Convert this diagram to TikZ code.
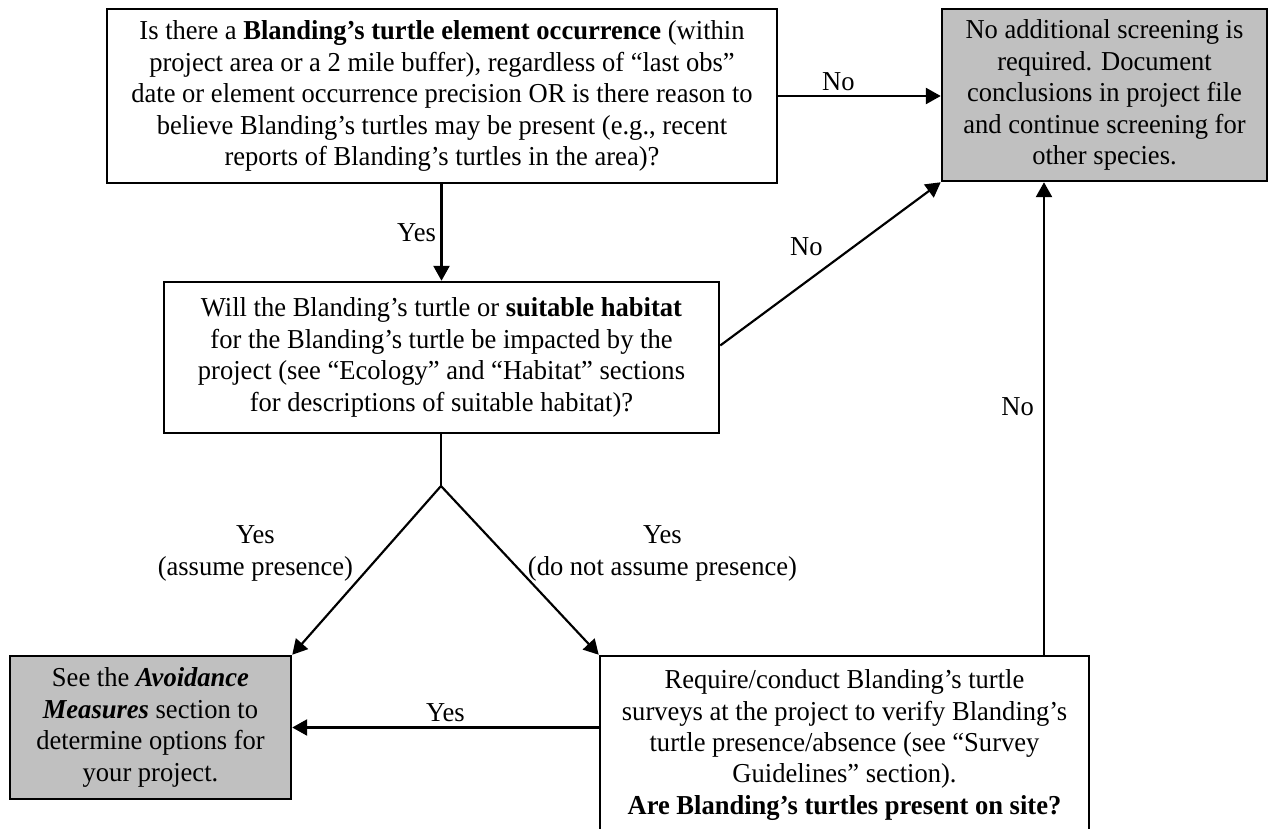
\documentclass[tikz,border=0pt]{standalone}
\usepackage{fontspec}
\setmainfont{Liberation Serif}[FakeStretch=0.97]
\usetikzlibrary{arrows.meta,calc}
\newdimen\pxu \pxu=0.4386pt
\definecolor{boxgray}{HTML}{C0C0C0}
\tikzset{
  box/.style={draw, line width=1.1pt, rectangle, inner sep=0pt, align=center,
    font=\fontsize{12pt}{13.8pt}\selectfont},
  graybox/.style={box, fill=boxgray},
  arr/.style={line width=0.95pt, -{Triangle[length=6.5pt,width=7pt]}},
  plain/.style={line width=0.95pt},
  lbl/.style={font=\fontsize{12pt}{13.8pt}\selectfont, align=center, inner sep=2pt}
}
\begin{document}
\begin{tikzpicture}[x=0.4386pt,y=-0.4386pt]
\useasboundingbox (0,0) rectangle (1268,829);
\clip (0,0) rectangle (1268,829);
\node[box, minimum width=670\pxu, minimum height=174\pxu] (q1) at (442,96)
  {Is there a \textbf{Blanding’s turtle element occurrence} (within\\
   project area or a 2 mile buffer), regardless of “last obs”\\
   date or element occurrence precision OR is there reason to\\
   believe Blanding’s turtles may be present (e.g., recent\\
   reports of Blanding’s turtles in the area)?};
\node[graybox, minimum width=325\pxu, minimum height=172\pxu] (done) at (1104.5,95)
  {No additional screening is\\
   required. Document\\
   conclusions in project file\\
   and continue screening for\\
   other species.};
\node[box, minimum width=555\pxu, minimum height=151\pxu] (q2) at (441.5,357.5)
  {Will the Blanding’s turtle or \textbf{suitable habitat}\\
   for the Blanding’s turtle be impacted by the\\
   project (see “Ecology” and “Habitat” sections\\
   for descriptions of suitable habitat)?};
\node[graybox, minimum width=281\pxu, minimum height=143\pxu] (avoid) at (150.5,727.5)
  {See the \textbf{\textit{Avoidance}}\\
   \textbf{\textit{Measures}} section to\\
   determine options for\\
   your project.};
\node[box, minimum width=489\pxu, minimum height=178\pxu] (survey) at (844.5,745)
  {Require/conduct Blanding’s turtle\\
   surveys at the project to verify Blanding’s\\
   turtle presence/absence (see “Survey\\
   Guidelines” section).\\
   \textbf{Are Blanding’s turtles present on site?}};
\coordinate (apex) at (441,486);
\coordinate (q2out) at ($(q2.east)+(0,-12)$);
\coordinate (q2bot) at ($(q2.south)+(-0.5,0)$);
% connectors
\draw[arr] (q1.east) -- node[lbl, pos=0.37, above] {No} (done.west |- q1.east);
\draw[arr] (q2.north |- q1.south) -- node[lbl, left] {Yes} (q2.north);
\draw[arr] (q2out) -- node[lbl, pos=0.5, above left=1pt] {No} (done.south west);
\draw[arr] (survey.north -| 1044,0) -- node[lbl, pos=0.526, left=2pt] {No} (done.south -| 1044,0);
\draw[plain] (q2bot) -- (apex);
\draw[arr] (apex) -- node[lbl, pos=0.4, left=10pt] {Yes\\(assume presence)} (avoid.north east);
\draw[arr] (apex) -- node[lbl, pos=0.4, right=8pt] {Yes\\(do not assume presence)} (survey.north west);
\draw[arr] (avoid.east -| survey.west) -- node[lbl, above] {Yes} (avoid.east);
\end{tikzpicture}
\end{document}
